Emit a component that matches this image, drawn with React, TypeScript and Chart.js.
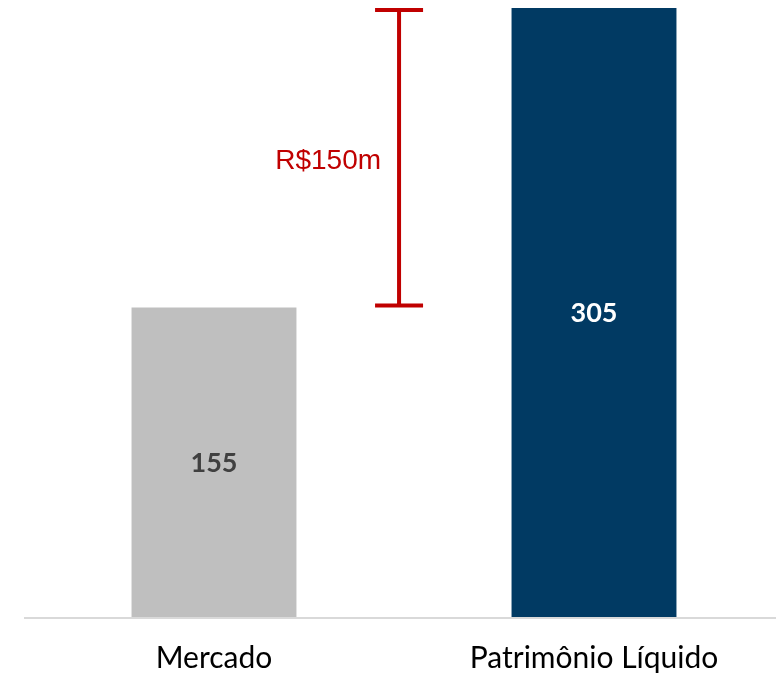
import React, { useEffect, useRef } from "react";
import { Chart, registerables } from "chart.js";

Chart.register(...registerables);

const categories = ["Mercado", "Patrimônio Líquido"];
const values = [155, 305];
const barColors = ["#BFBFBF", "#013A63"];
const valueLabelColors = ["#404040", "#FFFFFF"];
const bracketColor = "#C00000";

const CAT_FONT = "Lato";

const axisLinePlugin = {
  id: "axisLine",
  beforeDatasetsDraw(chart: any) {
    const { ctx, chartArea } = chart;
    ctx.save();
    ctx.strokeStyle = "#D9D9D9";
    ctx.lineWidth = 2;
    ctx.beginPath();
    ctx.moveTo(chartArea.left, chartArea.bottom + 1);
    ctx.lineTo(chartArea.right, chartArea.bottom + 1);
    ctx.stroke();
    ctx.restore();
  },
};

const valueLabelPlugin = {
  id: "valueLabels",
  afterDatasetsDraw(chart: any) {
    const { ctx } = chart;
    const meta = chart.getDatasetMeta(0);
    ctx.save();
    ctx.font = `bold 27px ${CAT_FONT}`;
    ctx.textAlign = "center";
    ctx.textBaseline = "middle";
    meta.data.forEach((bar: any, i: number) => {
      const cy = (bar.y + bar.base) / 2;
      ctx.fillStyle = valueLabelColors[i];
      ctx.fillText(String(values[i]), bar.x, cy + 1);
    });
    ctx.restore();
  },
};

const bracketPlugin = {
  id: "bracket",
  afterDatasetsDraw(chart: any) {
    const { ctx, scales } = chart;
    const x0 = scales.x.getPixelForValue(0);
    const x1 = scales.x.getPixelForValue(1);
    const x = x0 + 0.487 * (x1 - x0);
    const lw = 4;
    const yTop = scales.y.getPixelForValue(values[1]) + lw / 2;
    const yBot = scales.y.getPixelForValue(values[0]) - lw / 2;
    const capHalf = 24;
    ctx.save();
    ctx.strokeStyle = bracketColor;
    ctx.lineWidth = lw;
    ctx.beginPath();
    ctx.moveTo(x, yTop);
    ctx.lineTo(x, yBot);
    ctx.moveTo(x - capHalf, yTop);
    ctx.lineTo(x + capHalf, yTop);
    ctx.moveTo(x - capHalf, yBot);
    ctx.lineTo(x + capHalf, yBot);
    ctx.stroke();
    ctx.fillStyle = bracketColor;
    ctx.font = "28px 'Liberation Sans', Arial, sans-serif";
    ctx.textAlign = "right";
    ctx.textBaseline = "middle";
    ctx.fillText(`R$${values[1] - values[0]}m`, x - 18, (yTop + yBot) / 2 + 4);
    ctx.restore();
  },
};

export default function App() {
  const ref = useRef<HTMLCanvasElement | null>(null);

  useEffect(() => {
    if (!ref.current) return;
    const chart = new Chart(ref.current, {
      type: "bar",
      data: {
        labels: categories,
        datasets: [
          {
            data: values,
            backgroundColor: barColors,
            borderWidth: 0,
            categoryPercentage: 1,
            barPercentage: 0.434,
          },
        ],
      },
      options: {
        animation: false,
        responsive: false,
        maintainAspectRatio: false,
        layout: { padding: { top: 8, left: 24, right: 16, bottom: 0 } },
        plugins: {
          legend: { display: false },
          tooltip: { enabled: false },
        },
        scales: {
          x: {
            grid: { display: false, drawTicks: false },
            border: { display: false },
            ticks: {
              color: "#000000",
              padding: 26,
              font: { family: CAT_FONT, size: 30, lineHeight: 1 },
              maxRotation: 0,
              autoSkip: false,
            },
          },
          y: {
            display: false,
            min: 0,
            max: 305,
          },
        },
      },
      plugins: [axisLinePlugin, valueLabelPlugin, bracketPlugin],
    });
    return () => chart.destroy();
  }, []);

  return (
    <div
      style={{
        position: "absolute",
        left: 0,
        top: 0,
        width: 776,
        height: 674,
        overflow: "hidden",
        background: "#FFFFFF",
      }}
    >
      <canvas ref={ref} width={800} height={699} style={{ width: 800, height: 699, display: "block" }} />
    </div>
  );
}
